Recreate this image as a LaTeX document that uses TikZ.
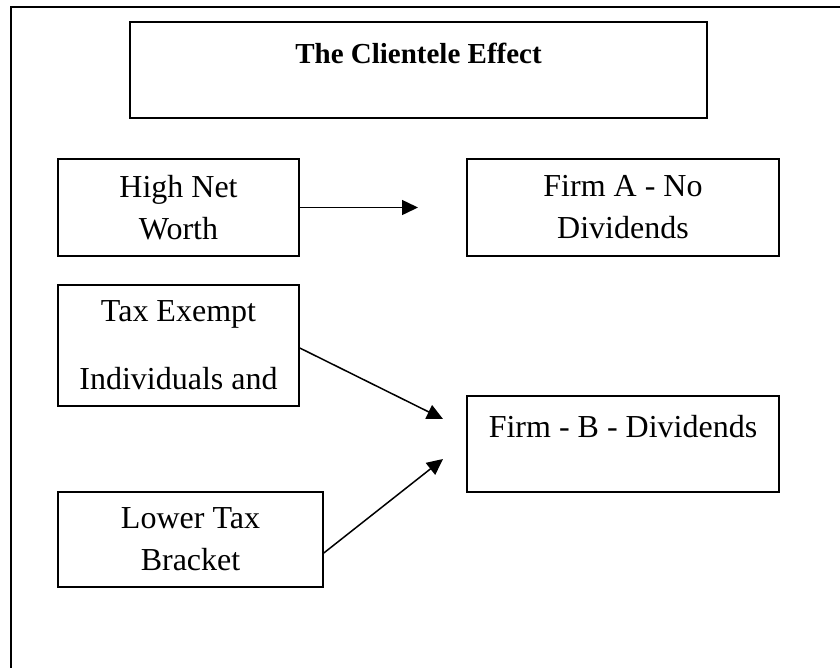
\documentclass[tikz,border=0pt]{standalone}
\usepackage{fontspec}
\setmainfont{Liberation Serif}
\usetikzlibrary{arrows.meta}

\begin{document}
\begin{tikzpicture}[x=1pt, y=-1pt,
    box/.style={draw, line width=1.6pt, inner sep=0pt, align=center,
      font=\fontsize{32}{42}\selectfont},
    onetop/.style={text height=41pt, text depth=55pt},
    link/.style={line width=1.5pt, -{Triangle[length=16pt, width=15pt]}}]
  \useasboundingbox (0,0) rectangle (840,667);
  \draw[line width=1.8pt] (845,7) -- (11,7) -- (11,672);

  \node[box, onetop, minimum width=577pt, font=\fontsize{29}{35}\selectfont\bfseries]
    (title) at (418.5,70) {The Clientele Effect};
  \node[box, minimum width=241pt, minimum height=97pt]
    (highnet) at (178.5,207.5) {High Net\\Worth};
  \node[box, minimum width=312pt, minimum height=97pt]
    (firmA) at (623,207.5) {Firm A - No\\Dividends};
  \node[box, minimum width=241pt, minimum height=121pt]
    (taxexempt) at (178.5,345.5) {Tax Exempt\\[26pt]Individuals and};
  \node[box, onetop, minimum width=312pt]
    (firmB) at (623,444) {Firm - B - Dividends};
  \node[box, minimum width=265pt, minimum height=95pt]
    (lowertax) at (190.5,539.5) {Lower Tax\\Bracket};

  \coordinate (toA) at (418,207.5);
  \coordinate (toB1) at (443,419);
  \coordinate (toB2) at (443,459);

  \draw[link] (highnet.east) -- (toA);
  \draw[link] ([yshift=-2.5pt]taxexempt.east) -- (toB1);
  \draw[link] ([yshift=-13.5pt]lowertax.east) -- (toB2);
\end{tikzpicture}
\end{document}
